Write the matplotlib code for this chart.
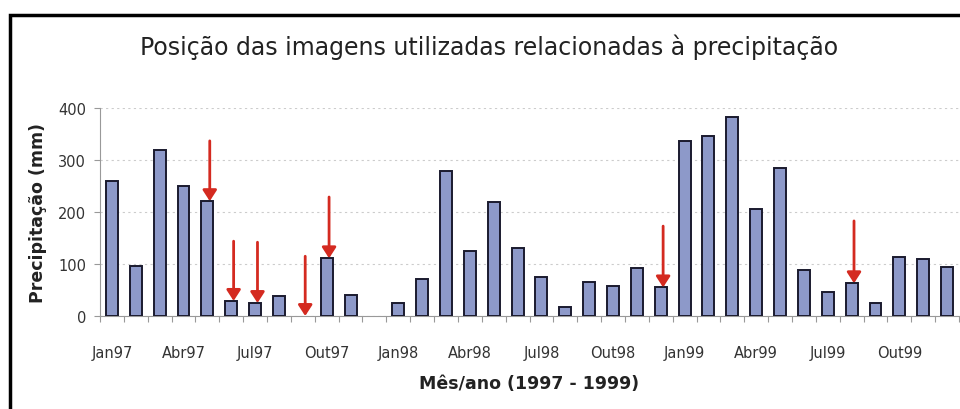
import matplotlib
matplotlib.use("Agg")
from matplotlib import pyplot as plt
from matplotlib.patches import Rectangle

months = ["Jan97", "Fev97", "Mar97", "Abr97", "Mai97", "Jun97", "Jul97", "Ago97", "Set97", "Out97", "Nov97", "Dez97",
          "Jan98", "Fev98", "Mar98", "Abr98", "Mai98", "Jun98", "Jul98", "Ago98", "Set98", "Out98", "Nov98", "Dez98",
          "Jan99", "Fev99", "Mar99", "Abr99", "Mai99", "Jun99", "Jul99", "Ago99", "Set99", "Out99", "Nov99", "Dez99"]
precip = [260, 96, 319, 251, 221, 29, 25, 38, 0, 111, 40, 0,
          25, 72, 279, 125, 220, 130, 75, 18, 65, 58, 93, 55,
          337, 346, 383, 206, 285, 88, 46, 63, 25, 113, 109, 94]

# images used: (month index, arrow start height)
image_months = [4, 5, 6, 8, 9, 23, 31]
arrow_tops = [337, 144, 142, 115, 229, 173, 183]

fig = plt.figure(figsize=(9.6, 4.1), dpi=100)
ax = fig.add_axes([100 / 960, 0.2268, 859 / 960, 0.507])

x = list(range(len(months)))
edge_w = [1.4 if v > 0 else 0 for v in precip]
ax.bar(x, precip, width=0.5, color="#8d99c9", edgecolor="#1a1a2e", linewidth=edge_w, zorder=3)

for i, top in zip(image_months, arrow_tops):
    ax.annotate("", xy=(i + 0.1, precip[i]), xytext=(i + 0.1, top),
                arrowprops=dict(arrowstyle="-|>,head_length=0.65,head_width=0.42",
                                color="#d42a20", lw=2.0, shrinkA=0, shrinkB=0),
                zorder=4)

ax.set_xlim(-0.5, len(months) - 0.5)
ax.set_ylim(0, 400)
ax.set_yticks([0, 100, 200, 300, 400])
ax.yaxis.grid(True, linestyle=(0, (2, 3)), color="#cccccc", linewidth=0.8, zorder=0)

ax.set_xticks([i - 0.5 for i in range(len(months) + 1)], minor=False)
ax.set_xticklabels([])
ax.set_xticks(x[::3], minor=True)
ax.set_xticklabels(months[::3], minor=True)
ax.tick_params(axis="x", which="major", length=4, color="#999999", direction="out")
ax.tick_params(axis="x", which="minor", length=0, pad=21, labelsize=10.5, labelcolor="#333333")
ax.tick_params(axis="y", length=4, color="#999999", labelsize=10.5, labelcolor="#333333", pad=6)

for side in ["top", "right"]:
    ax.spines[side].set_visible(False)
ax.spines["left"].set_color("#999999")
ax.spines["bottom"].set_color("#999999")

ax.set_ylabel("Precipitação (mm)", fontsize=12.5, fontweight="bold", color="#222222", labelpad=8)
ax.set_xlabel("Mês/ano (1997 - 1999)", fontsize=12.5, fontweight="bold", color="#222222", labelpad=10)

fig.text(0.509, 0.885, "Posição das imagens utilizadas relacionadas à precipitação",
         ha="center", va="center", fontsize=17, color="#222222")

fig.patches.append(Rectangle((9.5 / 960, -0.1), 1.1, 1.1 - 15.5 / 410, transform=fig.transFigure,
                             fill=False, edgecolor="black", linewidth=2.5, clip_on=False))

fig.savefig("out.png", dpi=100)
